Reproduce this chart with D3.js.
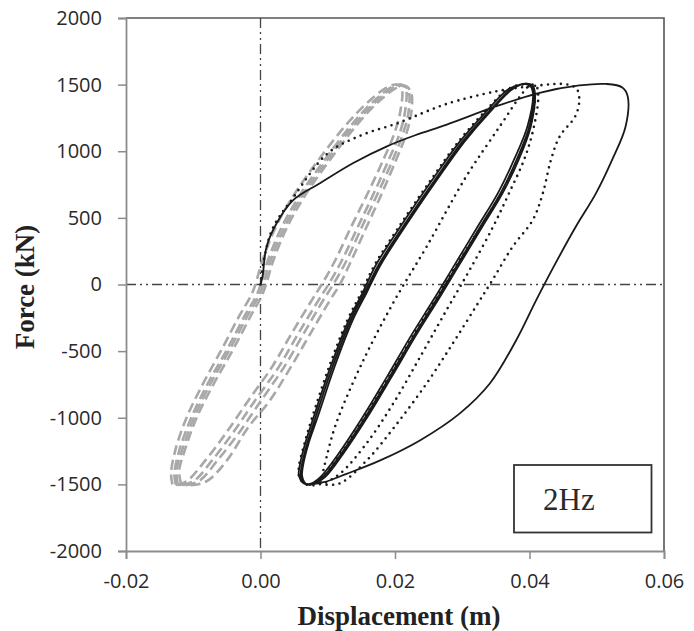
<!DOCTYPE html>
<html>
<head>
<meta charset="utf-8">
<script src="https://cdn.jsdelivr.net/npm/d3@7"></script>
<style>
  body { margin: 0; background: #fff; }
  svg { display: block; }
</style>
</head>
<body>
<svg id="chart" width="694" height="631"></svg>
<script>
// axis ticks
const xTicks = [-0.02, 0.00, 0.02, 0.04, 0.06];
const yTicks = [-2000, -1500, -1000, -500, 0, 500, 1000, 1500, 2000];

// grey dashed loops, [displacement m, force kN]
const grayCycleA = [
  [-0.0131,-1500],[-0.0133,-1420],[-0.0127,-1250],[-0.0110,-1000],[-0.0085,-740],[-0.0058,-490],
  [-0.0032,-240],[-0.0012,-60],[0.0003,180],[0.0023,435],[0.0052,690],[0.0087,940],[0.0126,1190],
  [0.0160,1370],[0.0190,1485],[0.0203,1500],[0.0210,1470],[0.0208,1300],[0.0198,1120],[0.0183,940],
  [0.0160,690],[0.0135,435],[0.0111,180],[0.0091,0],[0.0076,-120],[0.0046,-370],[0.0017,-620],
  [-0.0018,-870],[-0.0052,-1120],[-0.0082,-1320],[-0.0108,-1470],[-0.0123,-1505],[-0.0131,-1500]
];
const grayCycleB = [
  [-0.0126,-1500],[-0.0128,-1420],[-0.0121,-1250],[-0.0103,-1000],[-0.0078,-740],[-0.0050,-490],
  [-0.0024,-240],[-0.0004,-60],[0.0011,180],[0.0032,435],[0.0061,690],[0.0096,940],[0.0134,1190],
  [0.0167,1370],[0.0196,1485],[0.0209,1500],[0.0216,1470],[0.0215,1300],[0.0206,1120],[0.0191,940],
  [0.0169,690],[0.0145,435],[0.0121,180],[0.0101,0],[0.0086,-120],[0.0056,-370],[0.0027,-620],
  [-0.0008,-870],[-0.0042,-1120],[-0.0072,-1320],[-0.0098,-1470],[-0.0116,-1505],[-0.0126,-1500]
];
const grayCycleC = [
  [-0.0123,-1500],[-0.0125,-1400],[-0.0117,-1250],[-0.0099,-1000],[-0.0074,-740],[-0.0046,-490],
  [-0.0020,-240],[0.0000,-60],[0.0015,180],[0.0036,435],[0.0065,690],[0.0100,940],[0.0138,1190],
  [0.0171,1370],[0.0200,1485],[0.0212,1495],[0.0220,1455],[0.0220,1290],[0.0211,1120],[0.0197,940],
  [0.0175,690],[0.0151,435],[0.0128,180],[0.0108,0],[0.0093,-120],[0.0064,-370],[0.0035,-620],
  [0.0001,-870],[-0.0033,-1120],[-0.0064,-1320],[-0.0090,-1470],[-0.0109,-1505],[-0.0123,-1500]
];
const grayCycleD = [
  [-0.0118,-1500],[-0.0121,-1400],[-0.0113,-1250],[-0.0095,-1000],[-0.0069,-740],[-0.0041,-490],
  [-0.0015,-240],[0.0004,-60],[0.0019,180],[0.0040,435],[0.0069,690],[0.0104,940],[0.0142,1190],
  [0.0175,1370],[0.0204,1480],[0.0216,1490],[0.0224,1440],[0.0224,1280],[0.0216,1120],[0.0202,940],
  [0.0181,690],[0.0158,435],[0.0135,180],[0.0118,0],[0.0103,-120],[0.0074,-370],[0.0045,-620],
  [0.0014,-870],[-0.0018,-1070],[-0.0050,-1320],[-0.0078,-1470],[-0.0100,-1505],[-0.0118,-1500]
];

// black solid record
const solidPath = [
  [0,0],[0.0003,60],[0.0009,284],[0.0024,460],[0.0049,635],[0.0089,762],[0.0138,912],[0.0188,1037],
  [0.0230,1120],[0.0277,1200],[0.0351,1338],[0.0415,1439],[0.0474,1494],[0.0514,1505],[0.0538,1479],
  [0.0546,1413],[0.0543,1188],[0.0523,937],[0.0499,686],[0.0469,435],[0.0436,134],[0.0410,-117],
  [0.0380,-420],[0.0341,-743],[0.0296,-969],[0.0237,-1170],[0.0178,-1320],
  [0.0128,-1421],[0.0094,-1484],[0.0074,-1498],
  [0.0064,-1492],[0.0057,-1430],[0.0058,-1367],[0.0066,-1200],[0.0079,-995],[0.0104,-619],
  [0.0131,-269],[0.0152,-60],[0.0172,150],[0.0214,480],[0.0256,790],[0.0296,1070],[0.0336,1300],
  [0.0368,1463],[0.0386,1500],[0.0400,1495],[0.0405,1439],[0.0397,1188],[0.0377,937],[0.0353,686],
  [0.0323,435],[0.0287,134],[0.0257,-117],[0.0226,-367],[0.0188,-693],[0.0152,-995],[0.0116,-1270],
  [0.0089,-1446],[0.0075,-1495],[0.0066,-1497],
  [0.0060,-1440],[0.0061,-1367],[0.0069,-1200],[0.0082,-995],[0.0107,-619],
  [0.0134,-269],[0.0155,-60],[0.0176,150],[0.0218,480],[0.0260,790],[0.0300,1070],[0.0340,1300],
  [0.0372,1463],[0.0390,1505],[0.0402,1497],[0.0407,1440],[0.0400,1188],[0.0381,937],[0.0357,686],
  [0.0327,435],[0.0291,134],[0.0261,-117],[0.0230,-367],[0.0192,-693],[0.0156,-995],[0.0120,-1270],
  [0.0093,-1446],[0.0078,-1498],[0.0068,-1497],
  [0.0062,-1440],[0.0063,-1367],[0.0071,-1200],[0.0085,-995],[0.0110,-619],
  [0.0137,-269],[0.0158,-60],[0.0179,150],[0.0221,480],[0.0263,790],[0.0303,1070],[0.0342,1300],
  [0.0374,1463],[0.0392,1505],[0.0404,1495],[0.0408,1440],[0.0402,1188],[0.0384,937],[0.0360,686],
  [0.0330,435],[0.0294,134],[0.0264,-117],[0.0233,-367],[0.0195,-693],[0.0159,-995],[0.0123,-1270],
  [0.0096,-1446],[0.0080,-1498]
];

// black dotted record
const dottedPath = [
  [0,0],[0.0005,180],[0.0018,420],[0.0049,655],[0.0100,985],[0.0150,1120],[0.0203,1209],
  [0.0252,1309],[0.0279,1359],[0.0351,1450],[0.0415,1495],[0.0455,1502],[0.0470,1470],[0.0474,1380],
  [0.0468,1262],[0.0445,1112],[0.0432,937],[0.0420,688],[0.0405,485],[0.0375,284],[0.0345,34],
  [0.0321,-160],[0.0286,-442],[0.0247,-743],[0.0203,-1044],[0.0158,-1320],[0.0119,-1490],
  [0.0098,-1502],
  [0.0090,-1490],[0.0092,-1430],[0.0098,-1300],[0.0112,-1050],[0.0150,-600],[0.0197,-141],
  [0.0247,284],[0.0306,811],[0.0356,1188],[0.0390,1439],[0.0402,1500],[0.0410,1490],
  [0.0413,1400],[0.0405,1150],[0.0392,937],[0.0370,690],[0.0346,435],[0.0310,100],[0.0278,-180],
  [0.0240,-520],[0.0199,-880],[0.0158,-1190],[0.0118,-1420],[0.0088,-1500],[0.0068,-1500],
  [0.0058,-1450],[0.0057,-1371],[0.0065,-1200],[0.0077,-995],[0.0102,-618],[0.0129,-269],
  [0.0150,-60],[0.0170,150],[0.0212,480],[0.0254,790],[0.0294,1070],[0.0334,1300],[0.0367,1463],
  [0.0388,1500],[0.0402,1492],[0.0408,1430],[0.0401,1188],[0.0382,937],[0.0358,686],[0.0328,435],
  [0.0290,134],[0.0260,-117],[0.0229,-367],[0.0191,-693],[0.0155,-995],[0.0119,-1270],
  [0.0092,-1446],[0.0077,-1500],[0.0066,-1495]
];

const legendLabel = "2Hz";

function drawChart() {
  const svg = d3.select("#chart");
  svg.selectAll("*").remove();

  const left = 126, right = 664, top = 18, bottom = 551;
  const x = d3.scaleLinear().domain([-0.02, 0.06]).range([left, right]);
  const y = d3.scaleLinear().domain([-2000, 2000]).range([bottom, top]);

  svg.append("defs").append("clipPath").attr("id", "plotClip")
    .append("rect").attr("x", left).attr("y", top)
    .attr("width", right - left).attr("height", bottom - top);

  // frame top/right
  svg.append("path")
    .attr("d", `M${left},${top}H${right}V${bottom}`)
    .attr("fill", "none").attr("stroke", "#555").attr("stroke-width", 1.6);

  // zero reference lines (dash-dot-dot)
  const refStyle = g => g.attr("stroke", "#444").attr("stroke-width", 1.3)
    .attr("stroke-dasharray", "10,4,2,4,2,4");
  svg.append("line").attr("x1", x(0)).attr("x2", x(0)).attr("y1", top).attr("y2", bottom).call(refStyle);
  svg.append("line").attr("x1", left).attr("x2", right).attr("y1", y(0)).attr("y2", y(0)).call(refStyle);

  const line = d3.line()
    .x(d => x(d[0])).y(d => y(d[1]))
    .curve(d3.curveCatmullRom.alpha(0.5));

  const plot = svg.append("g").attr("clip-path", "url(#plotClip)");

  [grayCycleA, grayCycleB, grayCycleC, grayCycleD].forEach(c => {
    plot.append("path").attr("d", line(c))
      .attr("fill", "none").attr("stroke", "#a8a8a8")
      .attr("stroke-width", 2.6).attr("stroke-dasharray", "10,5");
  });

  plot.append("path").attr("d", line(solidPath))
    .attr("fill", "none").attr("stroke", "#1a1a1a").attr("stroke-width", 1.8);

  plot.append("path").attr("d", line(dottedPath))
    .attr("fill", "none").attr("stroke", "#1a1a1a").attr("stroke-width", 2.6)
    .attr("stroke-linecap", "round").attr("stroke-dasharray", "0,6.5");

  // axes
  const yAxis = svg.append("g").attr("transform", `translate(${left},0)`)
    .call(d3.axisLeft(y).tickValues(yTicks).tickSize(8).tickPadding(16).tickFormat(d => String(d)));
  const xAxis = svg.append("g").attr("transform", `translate(0,${bottom})`)
    .call(d3.axisBottom(x).tickValues(xTicks).tickSize(8).tickPadding(15).tickFormat(d => d.toFixed(2)));

  [yAxis, xAxis].forEach(a => {
    a.select(".domain").attr("stroke", "#8c8c8c").attr("stroke-width", 1.8);
    a.selectAll(".tick line").attr("stroke", "#8c8c8c").attr("stroke-width", 1.5);
    a.selectAll(".tick text").attr("fill", "#2a2a2a")
      .style("font-family", "'Open Sans', sans-serif").style("font-size", "20px");
  });

  // axis titles
  svg.append("text")
    .attr("x", 399).attr("y", 625).attr("text-anchor", "middle")
    .style("font-family", "'Liberation Serif', serif").style("font-weight", "bold")
    .style("font-size", "27px").attr("fill", "#222")
    .text("Displacement (m)");

  svg.append("text")
    .attr("transform", "translate(34,287) rotate(-90)").attr("text-anchor", "middle")
    .style("font-family", "'Liberation Serif', serif").style("font-weight", "bold")
    .style("font-size", "27px").attr("fill", "#222")
    .text("Force (kN)");

  // label box
  svg.append("rect")
    .attr("x", 514).attr("y", 465).attr("width", 137.5).attr("height", 67.5)
    .attr("fill", "#fff").attr("stroke", "#333").attr("stroke-width", 1.8);
  svg.append("text")
    .attr("x", 543).attr("y", 510)
    .style("font-family", "'Liberation Serif', serif").style("font-size", "31px")
    .attr("fill", "#2a2a2a")
    .text(legendLabel);
}

drawChart();
</script>
</body>
</html>
